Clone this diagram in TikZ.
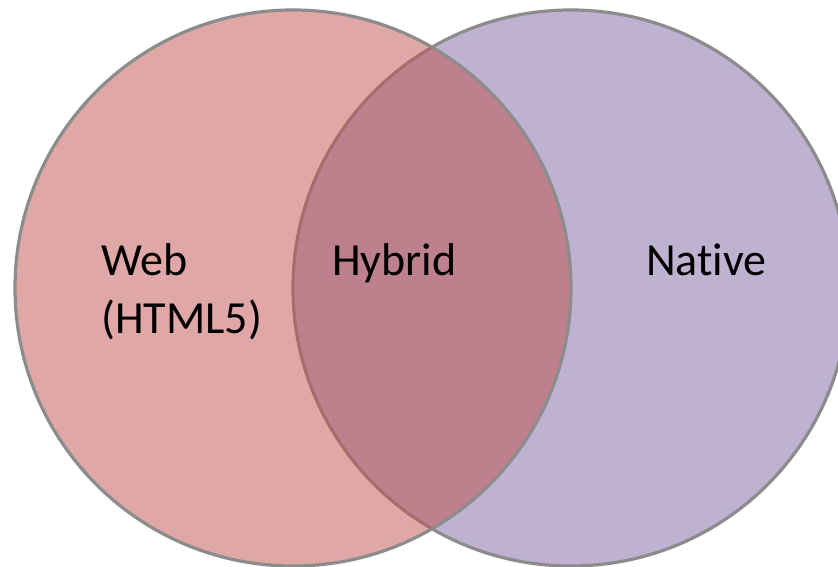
\documentclass[tikz,border=0pt]{standalone}
\usepackage{fontspec}
\setmainfont{Carlito}[Ligatures=NoCommon]
\definecolor{webred}{HTML}{C0504D}
\definecolor{nativepurple}{HTML}{8064A2}
\definecolor{ringgray}{HTML}{8C8C8C}
\tikzset{
  setcircle/.style={circle, draw=ringgray, line width=3.2pt, fill opacity=0.5, minimum size=556pt, inner sep=0pt},
  label/.style={inner sep=0pt, anchor=base west, font=\fontsize{46}{58}\selectfont, align=left, text=black}
}
\begin{document}
\begin{tikzpicture}[x=1pt, y=-1pt]
\useasboundingbox (0,0) rectangle (838,567);
\begin{scope}
\clip (0,0) rectangle (838,567);
\node[setcircle, fill=nativepurple] (native) at (571,288) {};
\node[setcircle, fill=webred] (web) at (293,288) {};
\end{scope}
\node[label] (webtext) at (101,333) {Web\\(HTML5)};
\node[label] (hybridtext) at (332,275) {Hybrid};
\node[label] (nativetext) at (646,275) {Native};
\end{tikzpicture}
\end{document}
